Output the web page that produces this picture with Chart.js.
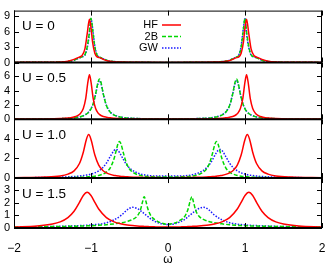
<!DOCTYPE html>
<html>
<head>
<meta charset="utf-8">
<script src="https://cdn.jsdelivr.net/npm/chart.js@4.4.0/dist/chart.umd.min.js"></script>
<style>
html, body { margin: 0; padding: 0; background: #fff; }
#wrap { width: 335px; height: 264px; }
</style>
</head>
<body>
<div id="wrap"><canvas id="canvasSpec"></canvas></div>
<script>
// spectral functions, four values of U, HF / 2B / GW
var seriesNames = ['HF', '2B', 'GW'];
var panelLabels = ['U = 0', 'U = 0.5', 'U = 1.0', 'U = 1.5'];
var xTicks = [-2, -1, 0, 1, 2];
var yMax = [10.1, 7.9, 5.95, 3.98];
var yStep = [3, 2, 2, 1];

// U = 0
var omegaU00 = [-2,-1.6,-1.4,-1.3,-1.22,-1.16,-1.12,-1.08,-1.05,-1.02,-1,-0.98,-0.95,-0.92,-0.88,-0.84,-0.78,-0.7,-0.6,-0.4,0,0.4,0.6,0.7,0.78,0.84,0.88,0.92,0.95,0.98,1,1.02,1.05,1.08,1.12,1.16,1.22,1.3,1.4,1.6,2];
var hfU00 = [0.02,0.05,0.1,0.25,0.6,1.0,1.3,2.6,5.5,8.4,6.8,4.0,1.8,1.1,0.9,0.6,0.3,0.15,0.08,0.04,0.02,0.04,0.08,0.15,0.3,0.6,0.9,1.1,1.8,4.0,6.8,8.4,5.5,2.6,1.3,1.0,0.6,0.25,0.1,0.05,0.02];
var b2U00 = [0.02,0.05,0.1,0.2,0.45,0.85,1.1,1.5,3.0,6.0,8.6,6.5,3.0,1.4,1.0,0.7,0.35,0.18,0.08,0.04,0.02,0.04,0.08,0.18,0.35,0.7,1.0,1.4,3.0,6.5,8.6,6.0,3.0,1.5,1.1,0.85,0.45,0.2,0.1,0.05,0.02];
var gwU00 = [0.02,0.05,0.1,0.2,0.45,0.85,1.1,1.4,2.8,5.6,8.5,6.8,3.2,1.5,1.0,0.7,0.35,0.18,0.08,0.04,0.02,0.04,0.08,0.18,0.35,0.7,1.0,1.5,3.2,6.8,8.5,5.6,2.8,1.4,1.1,0.85,0.45,0.2,0.1,0.05,0.02];

// U = 0.5
var omegaU05 = [-2,-1.6,-1.4,-1.3,-1.2,-1.14,-1.1,-1.07,-1.04,-1.02,-1,-0.97,-0.94,-0.91,-0.89,-0.87,-0.84,-0.8,-0.75,-0.7,-0.6,-0.4,0,0.4,0.6,0.7,0.75,0.8,0.84,0.87,0.89,0.91,0.94,0.97,1,1.02,1.04,1.07,1.1,1.14,1.2,1.3,1.4,1.6,2];
var hfU05 = [0.03,0.05,0.1,0.17,0.38,0.78,1.5,2.8,5.2,6.2,5.2,2.8,1.5,0.9,0.68,0.53,0.4,0.3,0.2,0.15,0.09,0.05,0.03,0.05,0.09,0.15,0.2,0.3,0.4,0.53,0.68,0.9,1.5,2.8,5.2,6.2,5.2,2.8,1.5,0.78,0.38,0.17,0.1,0.05,0.03];
var b2U05 = [0.03,0.05,0.09,0.14,0.24,0.35,0.49,0.65,0.88,1.12,1.45,2.23,3.52,5.11,5.6,5.11,3.52,1.92,0.99,0.59,0.27,0.1,0.04,0.1,0.27,0.59,0.99,1.92,3.52,5.11,5.6,5.11,3.52,2.23,1.45,1.12,0.88,0.65,0.49,0.35,0.24,0.14,0.09,0.05,0.03];
var gwU05 = [0.03,0.05,0.09,0.14,0.25,0.36,0.5,0.66,0.9,1.14,1.47,2.25,3.5,4.95,5.4,4.95,3.5,1.95,1.02,0.62,0.29,0.11,0.05,0.11,0.29,0.62,1.02,1.95,3.5,4.95,5.4,4.95,3.5,2.25,1.47,1.14,0.9,0.66,0.5,0.36,0.25,0.14,0.09,0.05,0.03];

// U = 1.0
var omegaU10 = [-2,-1.6,-1.4,-1.3,-1.22,-1.15,-1.1,-1.06,-1.03,-1,-0.95,-0.9,-0.85,-0.8,-0.75,-0.7,-0.675,-0.65,-0.63,-0.61,-0.58,-0.54,-0.5,-0.45,-0.4,-0.3,-0.2,0,0.2,0.3,0.4,0.45,0.5,0.54,0.58,0.61,0.63,0.65,0.675,0.7,0.75,0.8,0.85,0.9,0.95,1,1.03,1.06,1.1,1.15,1.22,1.3,1.4,1.6,2];
var hfU10 = [0.03,0.1,0.22,0.4,0.73,1.47,2.62,3.91,4.4,3.91,2.33,1.31,0.8,0.53,0.37,0.27,0.24,0.21,0.19,0.17,0.15,0.13,0.11,0.09,0.08,0.06,0.045,0.03,0.045,0.06,0.08,0.09,0.11,0.13,0.15,0.17,0.19,0.21,0.24,0.27,0.37,0.53,0.8,1.31,2.33,3.91,4.4,3.91,2.62,1.47,0.73,0.4,0.22,0.1,0.03];
var b2U10 = [0.02,0.022,0.035,0.046,0.06,0.076,0.092,0.11,0.126,0.146,0.193,0.265,0.385,0.6,1.04,1.98,2.72,3.45,3.7,3.45,2.56,1.52,0.92,0.55,0.36,0.18,0.13,0.1,0.13,0.18,0.36,0.55,0.92,1.52,2.56,3.45,3.7,3.45,2.72,1.98,1.04,0.6,0.385,0.265,0.193,0.146,0.126,0.11,0.092,0.076,0.06,0.046,0.035,0.022,0.02];
var gwU10 = [0.028,0.056,0.09,0.12,0.156,0.2,0.25,0.3,0.34,0.4,0.53,0.73,1.03,1.51,2.18,2.8,2.9,2.8,2.59,2.32,1.89,1.39,1.03,0.73,0.53,0.31,0.22,0.2,0.22,0.31,0.53,0.73,1.03,1.39,1.89,2.32,2.59,2.8,2.9,2.8,2.18,1.51,1.03,0.73,0.53,0.4,0.34,0.3,0.25,0.2,0.156,0.12,0.09,0.056,0.028];

// U = 1.5
var omegaU15 = [-2,-1.7,-1.5,-1.4,-1.3,-1.22,-1.15,-1.1,-1.05,-1,-0.95,-0.9,-0.8,-0.7,-0.6,-0.53,-0.46,-0.4,-0.36,-0.33,-0.31,-0.29,-0.26,-0.22,-0.16,-0.08,0,0.08,0.16,0.22,0.26,0.29,0.31,0.33,0.36,0.4,0.46,0.53,0.6,0.7,0.8,0.9,0.95,1,1.05,1.1,1.15,1.22,1.3,1.4,1.5,1.7,2];
var hfU15 = [0.08,0.16,0.32,0.49,0.83,1.33,2.04,2.59,2.84,2.59,2.04,1.51,0.83,0.49,0.32,0.245,0.195,0.162,0.145,0.133,0.127,0.12,0.116,0.1,0.089,0.075,0.07,0.075,0.089,0.1,0.116,0.12,0.127,0.133,0.145,0.162,0.195,0.245,0.32,0.49,0.83,1.51,2.04,2.59,2.84,2.59,2.04,1.33,0.83,0.49,0.32,0.16,0.08];
var b2U15 = [0.08,0.1,0.11,0.12,0.13,0.14,0.15,0.16,0.17,0.18,0.19,0.21,0.26,0.33,0.42,0.52,0.68,0.95,1.4,2.1,2.5,2.2,1.5,0.95,0.62,0.38,0.3,0.38,0.62,0.95,1.5,2.2,2.5,2.1,1.4,0.95,0.68,0.52,0.42,0.33,0.26,0.21,0.19,0.18,0.17,0.16,0.15,0.14,0.13,0.12,0.11,0.1,0.08];
var gwU15 = [0.08,0.1,0.12,0.13,0.15,0.17,0.19,0.2,0.22,0.24,0.27,0.3,0.42,0.65,1.05,1.45,1.65,1.55,1.4,1.25,1.15,1.05,0.9,0.7,0.5,0.33,0.28,0.33,0.5,0.7,0.9,1.05,1.15,1.25,1.4,1.55,1.65,1.45,1.05,0.65,0.42,0.3,0.27,0.24,0.22,0.2,0.19,0.17,0.15,0.13,0.12,0.1,0.08];

var panels = [
  { omega: omegaU00, series: [hfU00, b2U00, gwU00] },
  { omega: omegaU05, series: [hfU05, b2U05, gwU05] },
  { omega: omegaU10, series: [hfU10, b2U10, gwU10] },
  { omega: omegaU15, series: [hfU15, b2U15, gwU15] }
];
var panelWeight = [53, 58, 60, 51];

var lineColors = ['#ff0000', '#00d800', '#1a1aff'];
var lineDashes = [[], [4, 2], [1.5, 1.5]];

Chart.defaults.font.family = '"Liberation Sans", Arial, sans-serif';
Chart.defaults.color = '#000';

var datasets = [];
panels.forEach(function (p, i) {
  p.series.forEach(function (vals, k) {
    datasets.push({
      label: seriesNames[k],
      yAxisID: 'y' + i,
      data: p.omega.map(function (w, j) { return { x: w, y: vals[j] }; }),
      borderColor: lineColors[k],
      borderDash: lineDashes[k],
      borderWidth: 1.5,
      pointRadius: 0,
      fill: false,
      cubicInterpolationMode: 'monotone'
    });
  });
});

var scales = {
  x: {
    type: 'linear', position: 'bottom', min: -2, max: 2,
    grid: { display: false }, border: { display: false },
    ticks: {
      stepSize: 1, padding: 5, font: { size: 12 },
      callback: function (v) { return v < 0 ? '\u2212' + Math.abs(v) : '' + v; }
    },
    title: { display: true, text: 'ω', font: { size: 12 }, padding: { top: 0, bottom: -3 } },
    afterFit: function (s) { s.height = 36; }
  }
};
// bottom panel first so the stack builds top to bottom
for (var i = panels.length - 1; i >= 0; i--) {
  scales['y' + i] = {
    type: 'linear', position: 'left', stack: 'spec', stackWeight: panelWeight[i],
    min: 0, max: yMax[i],
    grid: { display: false, drawTicks: false }, border: { display: false },
    ticks: { stepSize: yStep[i], includeBounds: false, autoSkip: false, padding: 4, font: { size: 11 } },
    afterFit: function (s) { s.width = 14; }
  };
}

// gnuplot style frames, inward ticks, panel labels, key
var framePlugin = {
  id: 'frames',
  afterDatasetsDraw: function (chart) {
    var ctx = chart.ctx, a = chart.chartArea, xs = chart.scales.x;
    ctx.save();
    ctx.strokeStyle = '#000';
    for (var i = 0; i < panels.length; i++) {
      var ys = chart.scales['y' + i];
      var top = ys.top, bot = ys.bottom;
      ctx.lineWidth = 1;
      ctx.beginPath();
      ctx.moveTo(a.left + 0.5, top); ctx.lineTo(a.left + 0.5, bot);
      ctx.moveTo(a.right - 0.5, top); ctx.lineTo(a.right - 0.5, bot);
      if (i === 0) { ctx.moveTo(a.left, top + 0.5); ctx.lineTo(a.right, top + 0.5); }
      ys.ticks.forEach(function (t) {
        var py = Math.round(ys.getPixelForValue(t.value)) + 0.5;
        ctx.moveTo(a.left, py); ctx.lineTo(a.left + 5, py);
        ctx.moveTo(a.right, py); ctx.lineTo(a.right - 5, py);
      });
      xTicks.forEach(function (v) {
        var px = Math.round(xs.getPixelForValue(v)) + 0.5;
        ctx.moveTo(px, top); ctx.lineTo(px, top + 5);
        ctx.moveTo(px, bot); ctx.lineTo(px, bot - 5);
      });
      ctx.stroke();
      ctx.lineWidth = 2;
      ctx.beginPath();
      ctx.moveTo(a.left, bot); ctx.lineTo(a.right, bot);
      ctx.stroke();

      ctx.fillStyle = '#000';
      ctx.font = '13.5px "Liberation Sans", Arial, sans-serif';
      ctx.textAlign = 'left';
      ctx.textBaseline = 'middle';
      ctx.fillText(panelLabels[i], a.left + 8, top + 16);
    }
    // key
    ctx.font = '11px "Liberation Sans", Arial, sans-serif';
    ctx.textAlign = 'right';
    for (var k = 0; k < seriesNames.length; k++) {
      var ky = 25 + k * 11.5;
      ctx.fillText(seriesNames[k], 158, ky);
      ctx.strokeStyle = lineColors[k];
      ctx.lineWidth = 1.5;
      ctx.setLineDash(lineDashes[k]);
      ctx.beginPath();
      ctx.moveTo(162, ky); ctx.lineTo(181, ky);
      ctx.stroke();
    }
    ctx.restore();
  }
};

var ctx = document.getElementById('canvasSpec').getContext('2d');
var specChart = new Chart(ctx, {
  type: 'line',
  data: { datasets: datasets },
  options: {
    responsive: true,
    maintainAspectRatio: false,
    animation: false,
    devicePixelRatio: 1,
    layout: { padding: { top: 6, right: 13, left: 0, bottom: 0 } },
    plugins: { legend: { display: false }, tooltip: { enabled: false } },
    scales: scales
  },
  plugins: [framePlugin]
});
</script>
</body>
</html>
